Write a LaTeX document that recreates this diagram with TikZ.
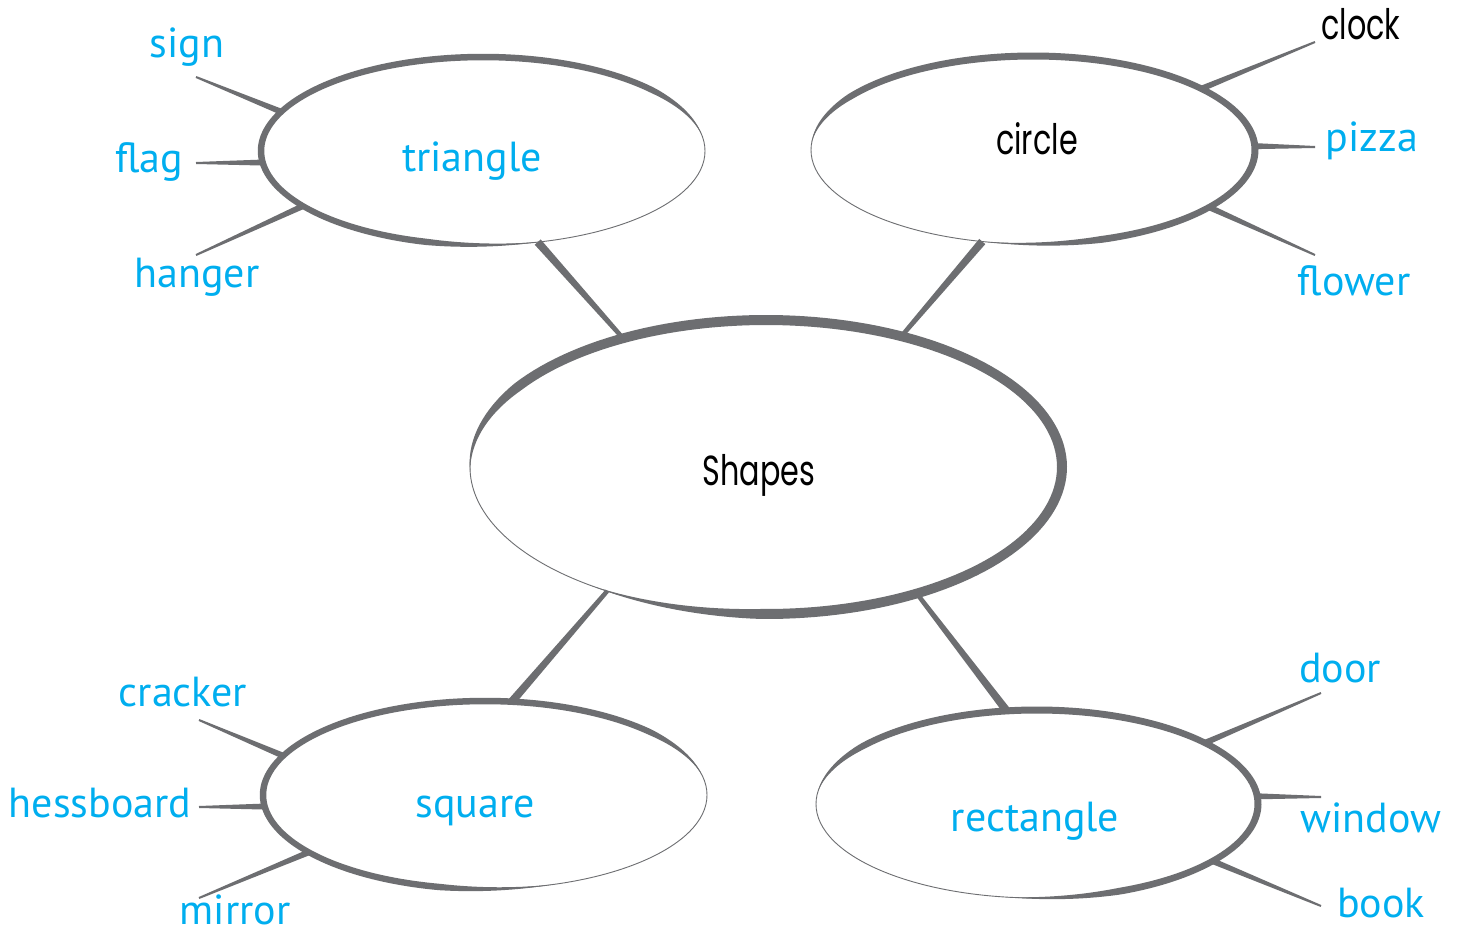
\documentclass[tikz,border=0pt]{standalone}
\usepackage{fontspec}
\setmainfont{PT Sans}
\newfontfamily\blkfont[FakeStretch=0.72]{Poppins}
\usetikzlibrary{calc,shapes.geometric}
\definecolor{cy}{HTML}{00AEEF}
\definecolor{gr}{HTML}{6D6E71}
\newcommand\sketchell[8]{%
 \draw[gr, line width=0.9pt] (#1,#2) ellipse [x radius=#3, y radius=#4];
 \fill[gr] plot[domain=#5:#6, samples=150] ({#1+(#3+0.5*#7*min(1,(\x-#5)/#8,(#6-\x)/#8))*cos(\x)},{#2+(#4+0.5*#7*min(1,(\x-#5)/#8,(#6-\x)/#8))*sin(\x)})
 -- plot[domain=#6:#5, samples=150] ({#1+(#3-0.5*#7*min(1,(\x-#5)/#8,(#6-\x)/#8))*cos(\x)},{#2+(#4-0.5*#7*min(1,(\x-#5)/#8,(#6-\x)/#8))*sin(\x)}) -- cycle;}
\newcommand\taper[4]{\fill[gr] ($(#1)!#3!90:(#2)$) -- ($(#2)!#4!-90:(#1)$) -- ($(#2)!#4!90:(#1)$) -- ($(#1)!#3!-90:(#2)$) -- cycle;}
\begin{document}
\begin{tikzpicture}[x=1pt,y=-1pt,
  hub/.style={ellipse, inner sep=0pt, outer sep=0pt},
  lbl/.style={text=cy, font=\fontsize{42}{50}\selectfont, inner sep=0pt, anchor=base},
  blk/.style={text=black, font=\blkfont\fontsize{42}{50}\selectfont, inner sep=0pt, anchor=base}]
\fill[white] (0,0) rectangle (1462,934);
\useasboundingbox (0,0) rectangle (1462,934);
% ellipse nodes
\node[hub, minimum width=592pt, minimum height=294pt] (sh) at (766,467) {};
\node[hub, minimum width=444pt, minimum height=188pt] (tri) at (483,151) {};
\node[hub, minimum width=444pt, minimum height=188pt] (cir) at (1033,150) {};
\node[hub, minimum width=444pt, minimum height=188pt] (sq) at (485,795) {};
\node[hub, minimum width=442pt, minimum height=188pt] (rec) at (1037,804) {};
% sketched outlines
\sketchell{766}{467}{296}{147}{178}{486}{10}{35}
\sketchell{483}{151}{222}{94}{75}{350}{6.5}{30}
\sketchell{1033}{150}{222}{94}{185}{462}{7}{30}
\sketchell{485}{795}{222}{94}{72}{348}{6.5}{30}
\sketchell{1037}{804}{221}{94}{188}{458}{7}{30}
% main connectors
\taper{tri.301}{sh.138}{4pt}{2.2pt}
\taper{cir.241}{sh.44}{4pt}{2.2pt}
\taper{sq.74}{sh.218}{4pt}{2.2pt}
\taper{rec.108}{sh.320}{4pt}{2.2pt}
% spokes
\coordinate (signE) at (196,77);
\coordinate (flagE) at (196,163);
\coordinate (hangerE) at (196,255);
\coordinate (clockE) at (1315,42);
\coordinate (pizzaE) at (1315,147);
\coordinate (flowerE) at (1315,255);
\coordinate (crackerE) at (199,720);
\coordinate (hessE) at (199,807);
\coordinate (mirrorE) at (199,898);
\coordinate (doorE) at (1321,693);
\coordinate (windowE) at (1321,797);
\coordinate (bookE) at (1321,906);
\taper{tri.169}{signE}{3pt}{1pt}
\taper{tri.183}{flagE}{3pt}{1pt}
\taper{tri.197}{hangerE}{3pt}{1pt}
\taper{cir.20}{clockE}{3pt}{1pt}
\taper{cir.1}{pizzaE}{3pt}{1pt}
\taper{cir.342}{flowerE}{3pt}{1pt}
\taper{sq.169}{crackerE}{3pt}{1pt}
\taper{sq.183}{hessE}{3pt}{1pt}
\taper{sq.198}{mirrorE}{3pt}{1pt}
\taper{rec.20}{doorE}{3pt}{1pt}
\taper{rec.2}{windowE}{3pt}{1pt}
\taper{rec.342}{bookE}{3pt}{1pt}
% texts
\node[blk] (shT) at (759,485) {Shapes};
\node[lbl] (triT) at (472,171) {triangle};
\node[blk] (cirT) at (1037,154) {circle};
\node[lbl] (sqT) at (475,817) {square};
\node[lbl] (recT) at (1035,831) {rectangle};
\node[lbl] (signT) at (187,58) {sign};
\node[lbl] (flagT) at (149,172) {flag};
\node[lbl] (hangerT) at (197,287) {hanger};
\node[blk] (clockT) at (1361,40) {clock};
\node[lbl] (pizzaT) at (1372,151) {pizza};
\node[lbl] (flowerT) at (1354,295) {flower};
\node[lbl] (crackerT) at (183,706) {cracker};
\node[lbl] (hessT) at (100,817) {hessboard};
\node[lbl] (mirrorT) at (235,924) {mirror};
\node[lbl] (doorT) at (1340,682) {door};
\node[lbl] (windowT) at (1371,832) {window};
\node[lbl] (bookT) at (1381,917) {book};
\end{tikzpicture}
\end{document}
